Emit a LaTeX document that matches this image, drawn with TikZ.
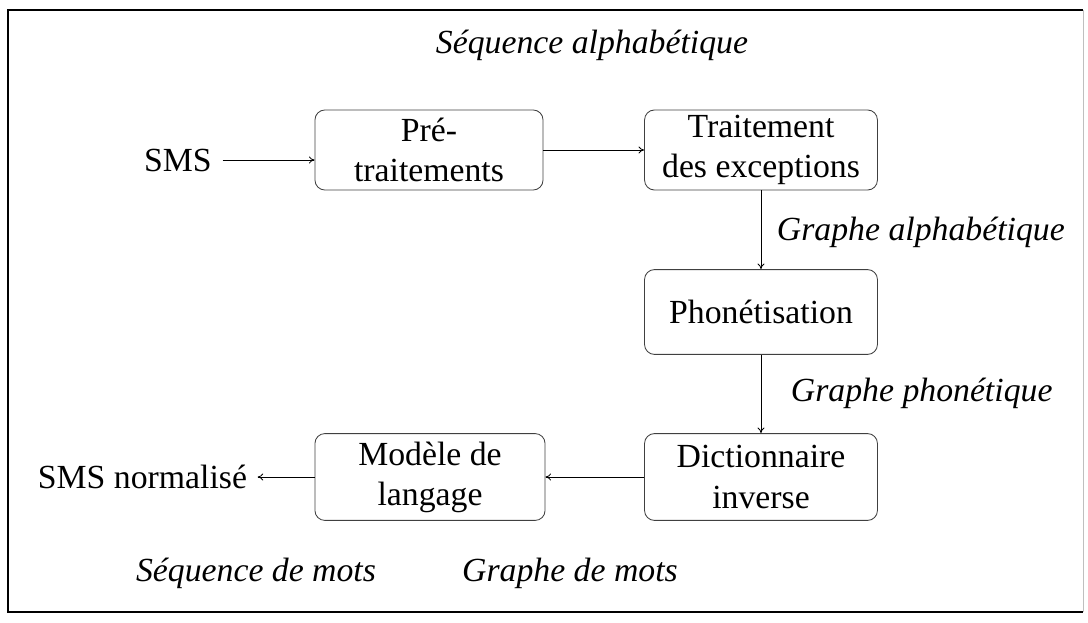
\documentclass[tikz,border=0pt]{standalone}
\usepackage{fontspec}
\setmainfont{Liberation Serif}
\usetikzlibrary{arrows.meta}
\begin{document}
\begin{tikzpicture}[x=0.025cm,y=-0.025cm,
  every node/.style={font=\fontsize{24}{28.5}\selectfont},
  box/.style={draw=black!75,line width=0.6pt,rounded corners=7pt,align=center,inner sep=2pt},
  lbl/.style={font=\fontsize{24}{28.5}\selectfont\itshape},
  conn/.style={line width=0.6pt,-{To[length=4pt,width=5pt]}}]
\useasboundingbox (0,0) rectangle (1088,623);
\draw[line width=1pt] (1083,10) -- (8,10) -- (8,612) -- (1083,612);
\draw[line width=0.5pt,black!25] (1083,10) -- (1083,612);

\node[lbl] (t1) at (592,45) {Séquence alphabétique};
\node (sms) at (178,160) {SMS};
\node[box,minimum width=5.7cm,minimum height=2cm] (pre) at (429,150) {Pré-\\traitements};
\node[box,minimum width=5.82cm,minimum height=2cm] (exc) at (761,150) {Traitement\\des exceptions};
\node[box,minimum width=5.82cm,minimum height=2.12cm] (pho) at (761,312) {Phonétisation};
\node[box,minimum width=5.82cm,minimum height=2.17cm] (dic) at (761,477) {Dictionnaire\\inverse};
\node[box,minimum width=5.75cm,minimum height=2.17cm] (mod) at (430,477) {Modèle de\\langage};
\node[anchor=east] (out) at (252,477) {SMS normalisé};
\node[lbl,anchor=west] (ga) at (772,232) {Graphe alphabétique};
\node[lbl,anchor=west] (gp) at (786,393) {Graphe phonétique};
\node[lbl] (sm) at (256,573) {Séquence de mots};
\node[lbl] (gm) at (570,573) {Graphe de mots};

\draw[conn] (sms.east) ++(6,0) coordinate (s0) -- (s0 -| pre.west);
\draw[conn] (pre.east) -- (exc.west);
\draw[conn] (exc.south) -- (pho.north);
\draw[conn] (pho.south) -- (dic.north);
\draw[conn] (dic.west) -- (mod.east);
\draw[conn,shorten >=4pt] (mod.west) -- (out.east);
\end{tikzpicture}
\end{document}
